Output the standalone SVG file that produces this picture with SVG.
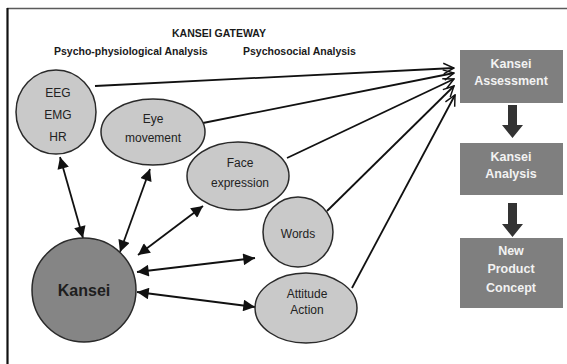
<svg xmlns="http://www.w3.org/2000/svg" width="567" height="364" viewBox="0 0 567 364">
  <style>
    .title { font-family: "Liberation Sans", Arial, sans-serif; font-weight: bold; font-size: 10.5px; fill: #1a1a1a; }
    .node { fill: #c9c9c9; stroke: #2a2a2a; stroke-width: 1.5; }
    .core { fill: #858585; stroke: #2a2a2a; stroke-width: 1.5; }
    .lbl { font-family: "Liberation Sans", Arial, sans-serif; font-size: 12px; fill: #222; text-anchor: middle; }
    .big { font-size: 16px; font-weight: bold; fill: #1e1e1e; }
    .box { fill: #7f7f7f; }
    .boxt { font-family: "Liberation Sans", Arial, sans-serif; font-weight: bold; font-size: 12.5px; fill: #f2f2f2; text-anchor: middle; }
    .link { stroke: #111; stroke-width: 1.8; fill: none; }
    .bi { marker-start: url(#tri); marker-end: url(#tri); }
    .open { marker-end: url(#vee); }
    .step { fill: #333; }
  </style>
  <defs>
    <marker id="tri" viewBox="0 0 10 10" refX="10" refY="5" markerWidth="7" markerHeight="6.5" orient="auto-start-reverse" markerUnits="strokeWidth">
      <path d="M0,0 L10,5 L0,10 z" fill="#111"/>
    </marker>
    <marker id="vee" viewBox="0 0 12 12" refX="11" refY="6" markerWidth="7" markerHeight="7" orient="auto" markerUnits="strokeWidth">
      <path d="M1,1 L11,6 L1,11" fill="none" stroke="#111" stroke-width="1.4"/>
    </marker>
  </defs>

  <rect width="567" height="364" fill="#fff"/>
  <!-- frame -->
  <line x1="7" y1="8.5" x2="567" y2="8.5" stroke="#5a5a5a" stroke-width="1.5"/>
  <line x1="7.5" y1="8" x2="7.5" y2="364" stroke="#111" stroke-width="2.2"/>

  <!-- headings -->
  <text class="title" x="219" y="37" text-anchor="middle">KANSEI GATEWAY</text>
  <text class="title" x="54" y="55">Psycho-physiological Analysis</text>
  <text class="title" x="243" y="55">Psychosocial Analysis</text>

  <!-- connectors -->
  <g id="connectors">
    <line class="link open" x1="95" y1="86" x2="454" y2="68"/>
    <line class="link open" x1="203" y1="123" x2="454" y2="73"/>
    <line class="link open" x1="287" y1="158" x2="454" y2="79"/>
    <line class="link open" x1="327" y1="211" x2="454" y2="86"/>
    <line class="link open" x1="352" y1="288" x2="455" y2="95"/>

    <line class="link bi" x1="60" y1="157" x2="83" y2="238"/>
    <line class="link bi" x1="150" y1="169" x2="120" y2="252"/>
    <line class="link bi" x1="203" y1="206" x2="138" y2="255"/>
    <line class="link bi" x1="137" y1="272" x2="255" y2="258"/>
    <line class="link bi" x1="137" y1="292" x2="255" y2="307"/>

    <path class="step" d="M508,105 H517 V125 H523 L512.5,138 L502,125 H508 Z"/>
    <path class="step" d="M508,203 H517 V224 H523 L512.5,237 L502,224 H508 Z"/>
  </g>

  <g id="eeg">
    <ellipse class="node" cx="56" cy="112" rx="40" ry="42"/>
    <text class="lbl" x="58" y="97" font-size="13">EEG</text>
    <text class="lbl" x="58" y="119" font-size="13">EMG</text>
    <text class="lbl" x="58" y="141" font-size="13">HR</text>
  </g>
  <g id="eye">
    <ellipse class="node" cx="153" cy="132" rx="52" ry="33"/>
    <text class="lbl" x="153" y="123">Eye</text>
    <text class="lbl" x="153" y="142">movement</text>
  </g>
  <g id="face">
    <ellipse class="node" cx="238" cy="176" rx="51" ry="34"/>
    <text class="lbl" x="240" y="167">Face</text>
    <text class="lbl" x="240" y="187">expression</text>
  </g>
  <g id="words">
    <ellipse class="node" cx="298" cy="232" rx="35" ry="35"/>
    <text class="lbl" x="298" y="238">Words</text>
  </g>
  <g id="attitude">
    <ellipse class="node" cx="306" cy="308" rx="51" ry="35"/>
    <text class="lbl" x="307" y="298">Attitude</text>
    <text class="lbl" x="307" y="314">Action</text>
  </g>
  <g id="kansei">
    <circle class="core" cx="84" cy="290" r="52"/>
    <text class="lbl big" x="84" y="296">Kansei</text>
  </g>

  <g id="assessment">
    <rect class="box" x="460" y="50" width="103" height="53"/>
    <text class="boxt" x="511" y="68">Kansei</text>
    <text class="boxt" x="511" y="85">Assessment</text>
  </g>
  <g id="analysis">
    <rect class="box" x="460" y="143" width="103" height="52"/>
    <text class="boxt" x="511" y="161">Kansei</text>
    <text class="boxt" x="511" y="178">Analysis</text>
  </g>
  <g id="concept">
    <rect class="box" x="460" y="238" width="103" height="70"/>
    <text class="boxt" x="511" y="255">New</text>
    <text class="boxt" x="511" y="273">Product</text>
    <text class="boxt" x="511" y="292">Concept</text>
  </g>
</svg>
